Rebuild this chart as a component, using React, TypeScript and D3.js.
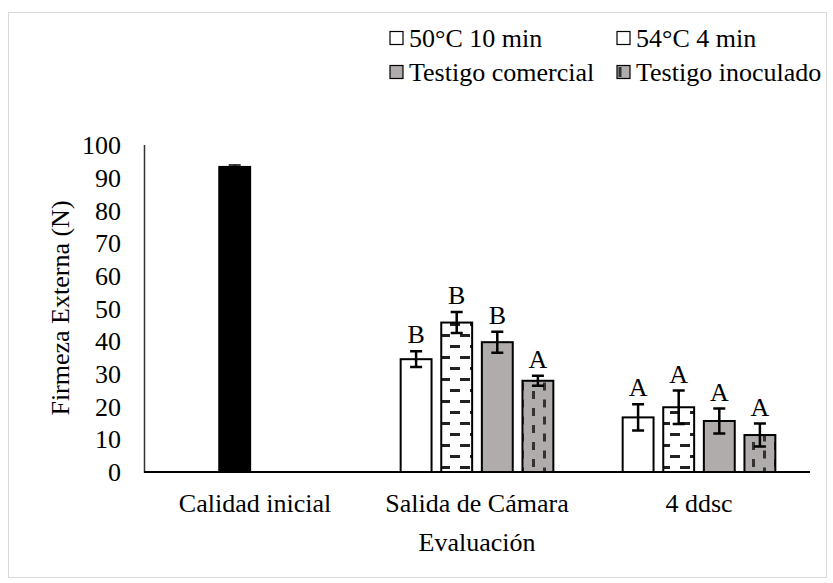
import React, { useRef, useEffect } from 'react';
import * as d3 from 'd3';

// categories on the x axis
const categories = ['Calidad inicial', 'Salida de Cámara', '4 ddsc'];
const series = ['50°C 10 min', '54°C 4 min', 'Testigo comercial', 'Testigo inoculado'];

// initial quality: one black bar
const initialMean = 93.6;
const initialErr = 0.3;

// treatments, values for "Salida de Cámara" and "4 ddsc"
const treatCategories = ['Salida de Cámara', '4 ddsc'];
const mean50 = [34.5, 16.7];
const err50 = [2.4, 4.0];
const letters50 = ['B', 'A'];
const mean54 = [45.7, 19.8];
const err54 = [3.2, 5.1];
const letters54 = ['B', 'A'];
const meanComercial = [39.7, 15.6];
const errComercial = [3.2, 3.8];
const lettersComercial = ['B', 'A'];
const meanInoculado = [27.9, 11.3];
const errInoculado = [1.5, 3.5];
const lettersInoculado = ['A', 'A'];

const yTicks = [0, 10, 20, 30, 40, 50, 60, 70, 80, 90, 100];

const W = 833;
const H = 583;
const GRAY = '#b0acab';
const FONT = '"Liberation Serif", "Times New Roman", serif';

const App = () => {
  const svgRef = useRef<SVGSVGElement>(null);

  useEffect(() => {
    const svg = d3.select(svgRef.current);
    svg.selectAll('*').remove();

    const x = d3.scaleBand().domain(categories).range([144, 810]);
    const x1 = d3.scaleBand().domain(series)
      .range([(x.bandwidth() - 162.4) / 2, (x.bandwidth() + 162.4) / 2])
      .paddingInner(0.19).paddingOuter(0.095);
    const y = d3.scaleLinear().domain([0, 100]).range([472, 145]);

    // patterns
    const defs = svg.append('defs');
    const pDash = defs.append('pattern').attr('id', 'hdash')
      .attr('patternUnits', 'userSpaceOnUse').attr('width', 20).attr('height', 22);
    pDash.append('rect').attr('width', 20).attr('height', 22).attr('fill', '#fff');
    pDash.append('rect').attr('x', 0).attr('y', 4).attr('width', 10).attr('height', 3).attr('fill', '#222');
    pDash.append('rect').attr('x', 10).attr('y', 15).attr('width', 10).attr('height', 3).attr('fill', '#222');

    const pV = defs.append('pattern').attr('id', 'vdash')
      .attr('patternUnits', 'userSpaceOnUse').attr('width', 22).attr('height', 17);
    pV.append('rect').attr('width', 22).attr('height', 17).attr('fill', GRAY);
    pV.append('rect').attr('x', 4).attr('y', 0).attr('width', 3).attr('height', 8).attr('fill', '#333');
    pV.append('rect').attr('x', 15).attr('y', 8.5).attr('width', 3).attr('height', 8).attr('fill', '#333');

    const fills: Record<string, string> = {
      '50°C 10 min': '#fff',
      '54°C 4 min': 'url(#hdash)',
      'Testigo comercial': GRAY,
      'Testigo inoculado': 'url(#vdash)',
    };

    // outer border
    svg.append('rect')
      .attr('x', 8.5).attr('y', 12.5).attr('width', 818).attr('height', 565)
      .attr('fill', 'none').attr('stroke', '#d9d9d9');

    // y axis labels
    svg.append('g')
      .selectAll('text')
      .data(yTicks)
      .join('text')
      .attr('x', 121)
      .attr('y', d => y(d))
      .attr('dy', '0.35em')
      .attr('text-anchor', 'end')
      .attr('font-family', FONT)
      .attr('font-size', 26)
      .text(d => d);

    const rows = [
      { name: series[0], mean: mean50, err: err50, letters: letters50 },
      { name: series[1], mean: mean54, err: err54, letters: letters54 },
      { name: series[2], mean: meanComercial, err: errComercial, letters: lettersComercial },
      { name: series[3], mean: meanInoculado, err: errInoculado, letters: lettersInoculado },
    ];
    const bars = rows.flatMap(r => treatCategories.map((c, i) => ({
      cat: c, name: r.name, mean: r.mean[i], err: r.err[i], letter: r.letters[i],
    })));

    const g = svg.append('g');

    // initial quality bar
    const x0 = (x('Calidad inicial') ?? 0) + (x1(series[1]) ?? 0);
    g.append('rect')
      .attr('x', x0).attr('y', y(initialMean))
      .attr('width', x1.bandwidth()).attr('height', y(0) - y(initialMean))
      .attr('fill', '#000');
    const cx0 = x0 + x1.bandwidth() / 2;
    g.append('path')
      .attr('d', `M${cx0 - 6},${y(initialMean + initialErr)}H${cx0 + 6}M${cx0},${y(initialMean + initialErr)}V${y(initialMean - initialErr)}M${cx0 - 6},${y(initialMean - initialErr)}H${cx0 + 6}`)
      .attr('stroke', '#000').attr('stroke-width', 1.5);

    g.selectAll('rect.bar')
      .data(bars)
      .join('rect')
      .attr('class', 'bar')
      .attr('x', d => (x(d.cat) ?? 0) + (x1(d.name) ?? 0) + 1)
      .attr('y', d => y(d.mean))
      .attr('width', x1.bandwidth() - 2)
      .attr('height', d => y(0) - y(d.mean))
      .attr('fill', d => fills[d.name])
      .attr('stroke', '#000')
      .attr('stroke-width', 2);

    // error bars
    g.selectAll('path.err')
      .data(bars)
      .join('path')
      .attr('class', 'err')
      .attr('d', d => {
        const cx = (x(d.cat) ?? 0) + (x1(d.name) ?? 0) + x1.bandwidth() / 2;
        const t = y(d.mean + d.err);
        const b = y(d.mean - d.err);
        return `M${cx - 6},${t}H${cx + 6}M${cx},${t}V${b}M${cx - 6},${b}H${cx + 6}`;
      })
      .attr('fill', 'none')
      .attr('stroke', '#000')
      .attr('stroke-width', 2.5);

    // significance letters
    g.selectAll('text.letter')
      .data(bars)
      .join('text')
      .attr('class', 'letter')
      .attr('x', d => (x(d.cat) ?? 0) + (x1(d.name) ?? 0) + x1.bandwidth() / 2)
      .attr('y', d => y(d.mean + d.err) - 8)
      .attr('text-anchor', 'middle')
      .attr('font-family', FONT)
      .attr('font-size', 26)
      .text(d => d.letter);

    // axes lines
    svg.append('path')
      .attr('d', `M144.5,145V${y(0)}H810`)
      .attr('fill', 'none')
      .attr('stroke', '#333')
      .attr('stroke-width', 1.5);
    svg.append('path')
      .attr('d', `M144,${y(0)}H810`)
      .attr('stroke', '#000')
      .attr('stroke-width', 2);

    // x labels
    svg.append('g')
      .selectAll('text')
      .data(categories)
      .join('text')
      .attr('x', d => (x(d) ?? 0) + x.bandwidth() / 2)
      .attr('y', 503)
      .attr('dy', '0.35em')
      .attr('text-anchor', 'middle')
      .attr('font-family', FONT)
      .attr('font-size', 26)
      .text(d => d);

    svg.append('text')
      .attr('x', 477).attr('y', 542).attr('dy', '0.35em')
      .attr('text-anchor', 'middle')
      .attr('font-family', FONT).attr('font-size', 26)
      .text('Evaluación');

    svg.append('text')
      .attr('transform', 'translate(60,308) rotate(-90)')
      .attr('dy', '0.35em')
      .attr('text-anchor', 'middle')
      .attr('font-family', FONT).attr('font-size', 26)
      .text('Firmeza Externa (N)');

    // legend
    const legendPos = [[390, 38], [617, 38], [390, 72], [617, 72]];
    const legendFill = ['#fff', '#fff', GRAY, GRAY];
    const lg = svg.append('g');
    series.forEach((s, i) => {
      const [lx, ly] = legendPos[i];
      lg.append('rect')
        .attr('x', lx).attr('y', ly - 6.5).attr('width', 13).attr('height', 13)
        .attr('fill', legendFill[i]).attr('stroke', '#000').attr('stroke-width', 1.2);
      if (i === 3) {
        lg.append('rect').attr('x', lx + 1.5).attr('y', ly - 5).attr('width', 3).attr('height', 10).attr('fill', '#333');
      }
      lg.append('text')
        .attr('x', lx + 19).attr('y', ly).attr('dy', '0.35em')
        .attr('font-family', FONT).attr('font-size', 26)
        .text(s);
    });
  }, []);

  return (
    <svg ref={svgRef} width={W} height={H}
      style={{ position: 'absolute', left: 0, top: 0, background: '#fff' }} />
  );
};

export default App;
